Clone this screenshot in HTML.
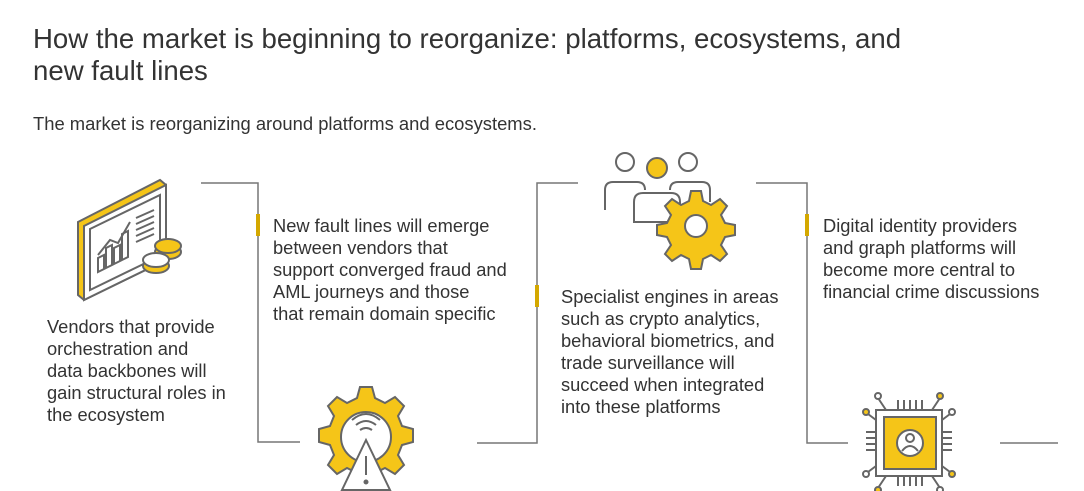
<!DOCTYPE html>
<html><head><meta charset="utf-8"><style>
body{margin:0;width:1084px;height:491px;background:#fff;overflow:hidden;position:relative;font-family:"Liberation Sans",Arial,sans-serif;color:#222}
.t{position:absolute;left:33px;top:23px;font-size:27.6px;line-height:32px;color:#333}
.s{position:absolute;left:33px;top:113px;font-size:18.4px;color:#333}
.b{position:absolute;font-size:18.3px;line-height:22px;color:#333;white-space:nowrap}
svg{position:absolute;left:0;top:0}
</style></head><body>
<div class="t">How the market is beginning to reorganize: platforms, ecosystems, and<br>new fault lines</div>
<div class="s">The market is reorganizing around platforms and ecosystems.</div>
<div class="b" style="left:47px;top:316px">Vendors that provide<br>orchestration and<br>data backbones will<br>gain structural roles in<br>the ecosystem</div>
<div class="b" style="left:273px;top:215px">New fault lines will emerge<br>between vendors that<br>support converged fraud and<br>AML journeys and those<br>that remain domain specific</div>
<div class="b" style="left:561px;top:286px">Specialist engines in areas<br>such as crypto analytics,<br>behavioral biometrics, and<br>trade surveillance will<br>succeed when integrated<br>into these platforms</div>
<div class="b" style="left:823px;top:215px">Digital identity providers<br>and graph platforms will<br>become more central to<br>financial crime discussions</div>
<svg width="1084" height="491" fill="none" stroke="#777" stroke-width="1.5">
<polyline points="201,183 258,183 258,442 300,442"/>
<polyline points="477,443 537,443 537,183 578,183"/>
<polyline points="756,183 807,183 807,443 848,443"/>
<line x1="1000" y1="443" x2="1058" y2="443"/>
<g stroke="#d4a800" stroke-width="4"><line x1="258" y1="214" x2="258" y2="236"/><line x1="537" y1="285" x2="537" y2="307"/><line x1="807" y1="214" x2="807" y2="236"/></g>
<!-- monitor -->
<g stroke="#666" stroke-width="2">
<polygon points="78,222 160,180 166,185 166,260 84,300 78,295" fill="#f5c518"/>
<polygon points="84,226 166,185 166,260 84,300" fill="#fff"/>
<polygon points="90,229 160,195 160,256 90,290" fill="#fff"/>
<path d="M98,272 l6,-3 v-14 l-6,3z M106,268 l6,-3 v-20 l-6,3z M114,264 l6,-3 v-16 l-6,3z M122,260 l6,-3 v-26 l-6,3z"/>
<polyline points="98,255 110,240 118,243 130,222"/>
<line x1="136" y1="218" x2="154" y2="210"/><line x1="136" y1="224" x2="154" y2="216"/><line x1="136" y1="230" x2="154" y2="222"/><line x1="136" y1="236" x2="154" y2="228"/><line x1="136" y1="242" x2="154" y2="234"/>
<ellipse cx="168" cy="252" rx="13" ry="7" fill="#f5c518"/><ellipse cx="168" cy="246" rx="13" ry="7" fill="#f5c518"/>
<ellipse cx="156" cy="266" rx="13" ry="7" fill="#f5c518"/><ellipse cx="156" cy="260" rx="13" ry="7" fill="#fff"/>
</g>
<!-- gear + warning -->
<g stroke="#666" stroke-width="2">
<path d="M360,387 h12 l3,11 10,5 10,-6 9,9 -6,10 4,10 11,3 v13 l-11,3 -4,10 6,10 -9,9 -10,-6 -10,5 -3,11 h-12 l-3,-11 -10,-5 -10,6 -9,-9 6,-10 -4,-10 -11,-3 v-13 l11,-3 4,-10 -6,-10 9,-9 10,6 10,-5z" fill="#f5c518"/>
<circle cx="366" cy="437" r="25" fill="#fff"/>
<path d="M352,420 q14,-12 28,0 M356,425 q10,-8 20,0 M360,430 q6,-4 12,0"/>
<polygon points="366,440 390,490 342,490" fill="#fff"/>
<line x1="366" y1="456" x2="366" y2="475"/><circle cx="366" cy="482" r="1.5" fill="#666"/>
</g>
<!-- people + gear -->
<g stroke="#666" stroke-width="2">
<circle cx="625" cy="162" r="9" fill="#fff"/><circle cx="688" cy="162" r="9" fill="#fff"/>
<circle cx="657" cy="168" r="10" fill="#f5c518"/>
<path d="M605,210 v-20 q0,-8 8,-8 h24 q8,0 8,8" fill="#fff"/>
<path d="M670,190 q0,-8 8,-8 h24 q8,0 8,8 v12" fill="#fff"/>
<path d="M634,222 v-20 q0,-9 9,-9 h28 q9,0 9,9 v20z" fill="#fff"/>
<path d="M691,191 h10 l2,10 8,4 9,-6 7,7 -6,9 4,8 10,2 v10 l-10,2 -4,8 6,9 -7,7 -9,-6 -8,4 -2,10 h-10 l-2,-10 -8,-4 -9,6 -7,-7 6,-9 -4,-8 -10,-2 v-10 l10,-2 4,-8 -6,-9 7,-7 9,6 8,-4z" fill="#f5c518"/>
<circle cx="696" cy="226" r="11" fill="#fff"/>
</g>
<!-- chip -->
<g stroke="#666" stroke-width="2">
<rect x="876" y="410" width="66" height="66" fill="#fff"/>
<rect x="884" y="417" width="52" height="52" fill="#f5c518"/>
<circle cx="910" cy="443" r="13" fill="#fff"/>
<circle cx="910" cy="438" r="4"/><path d="M902,451 q8,-10 16,0"/>
<path d="M898,410 v-10 M904,410 v-10 M910,410 v-10 M916,410 v-10 M922,410 v-10 M898,476 v10 M904,476 v10 M910,476 v10 M916,476 v10 M922,476 v10 M876,432 h-10 M876,438 h-10 M876,444 h-10 M876,450 h-10 M942,432 h10 M942,438 h10 M942,444 h10 M942,450 h10"/>
<path d="M886,410 l-8,-12 M932,410 l8,-12 M876,420 l-8,-6 M942,420 l8,-6 M876,466 l-8,6 M942,466 l8,6 M886,476 l-8,12 M932,476 l8,12"/>
<circle cx="878" cy="396" r="3" fill="#fff"/><circle cx="940" cy="396" r="3" fill="#f5c518"/><circle cx="866" cy="412" r="3" fill="#f5c518"/><circle cx="952" cy="412" r="3" fill="#fff"/><circle cx="866" cy="474" r="3" fill="#fff"/><circle cx="952" cy="474" r="3" fill="#f5c518"/><circle cx="878" cy="490" r="3" fill="#f5c518"/><circle cx="940" cy="490" r="3" fill="#fff"/>
</g>
</svg>
</body></html>
